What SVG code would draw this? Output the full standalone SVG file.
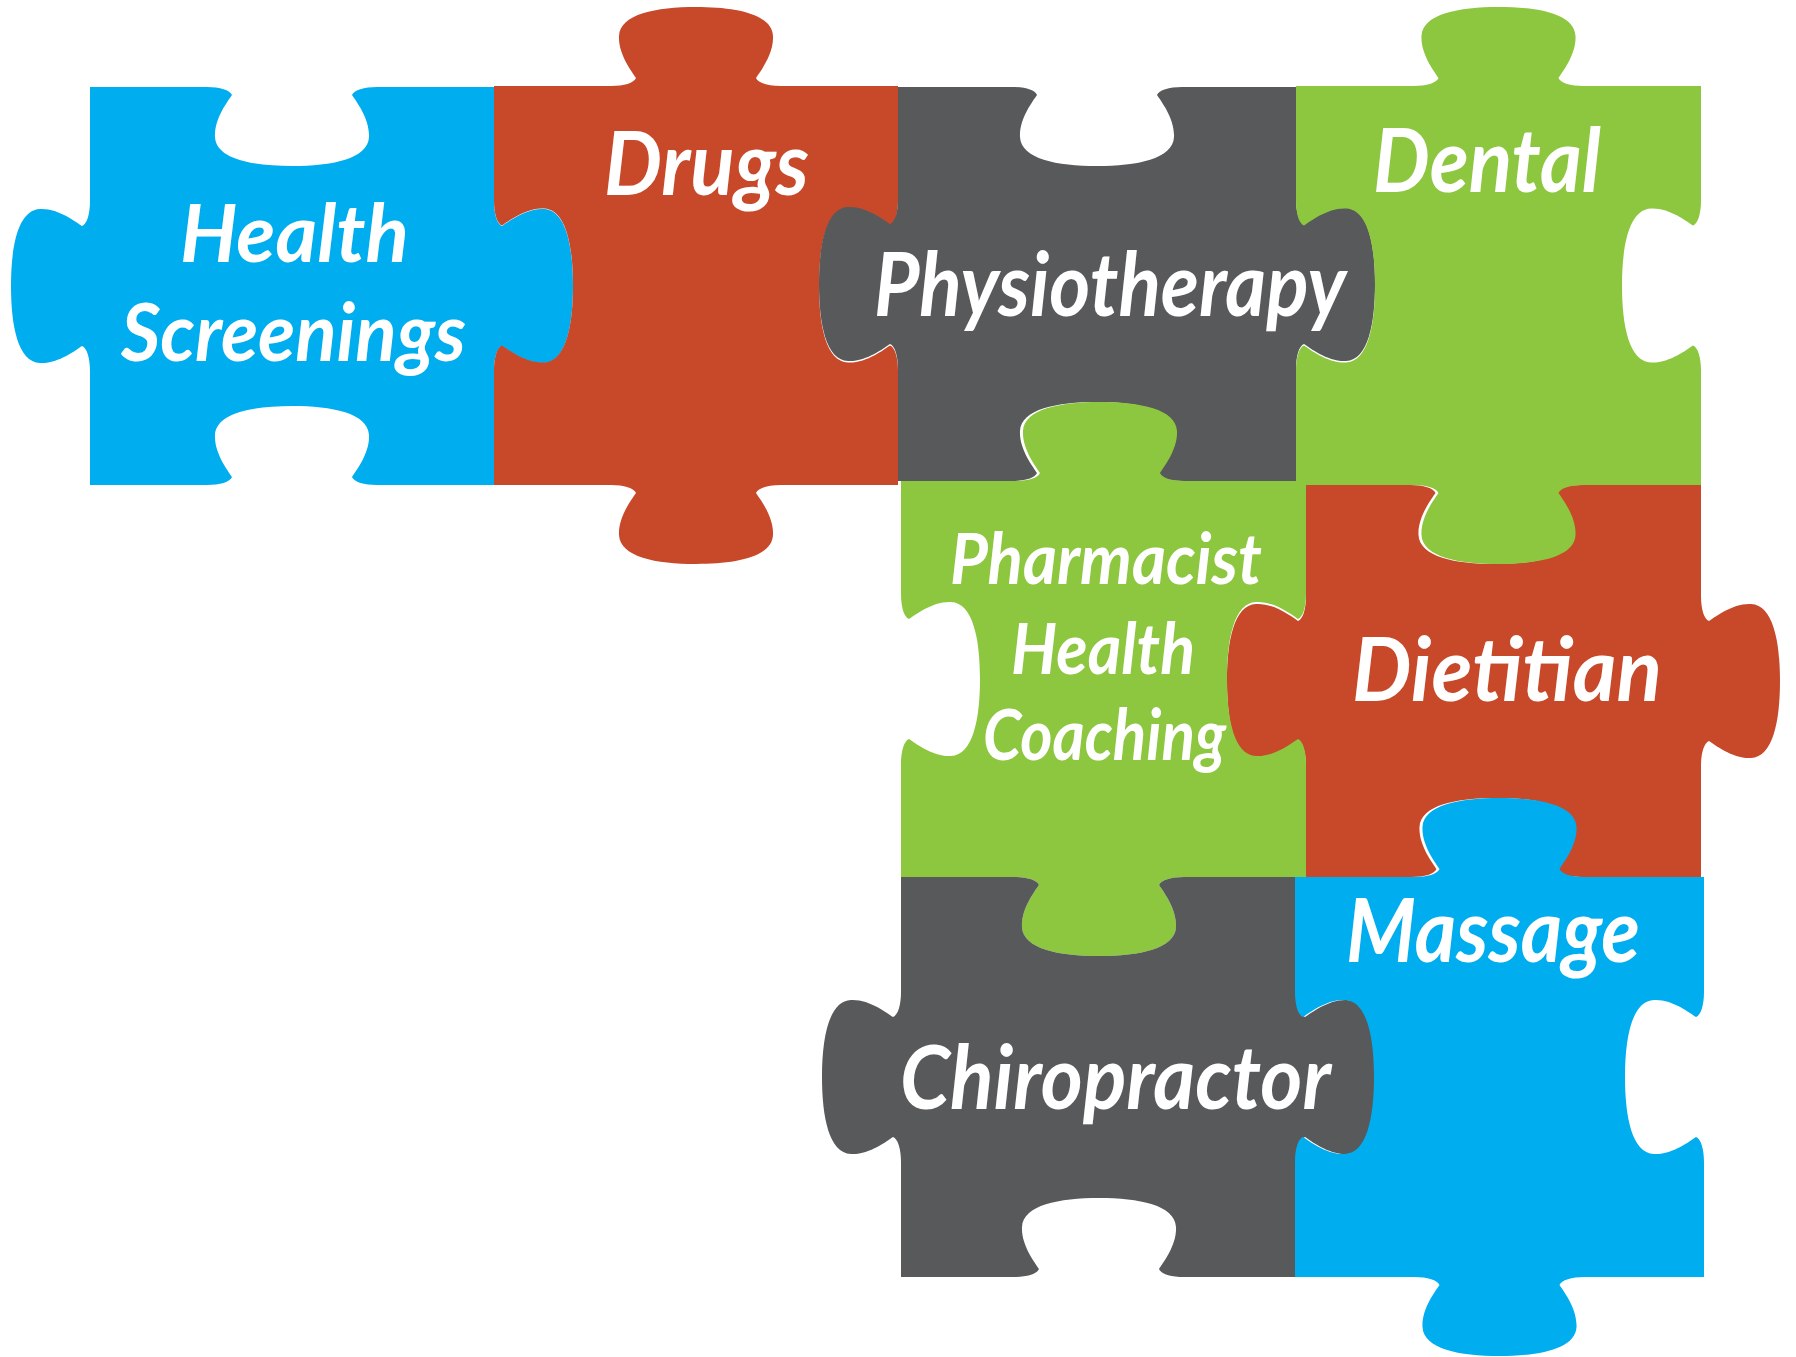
<svg xmlns="http://www.w3.org/2000/svg" width="1796" height="1357" viewBox="0 0 1796 1357">
<style>
.blue{fill:#00AEEF}
.red{fill:#C7492A}
.grey{fill:#58595B}
.green{fill:#8DC63F}
.lbl{font-family:Lato,"Noto Sans","DejaVu Sans",sans-serif;font-weight:700;font-style:italic;fill:#FFFFFF;font-size:88px}
.md{font-size:80px}
.sm{font-size:70px}
</style>
<rect width="1796" height="1357" fill="#FFFFFF"/>
<g id="health-screenings">
<path class="blue" d="M90,87 h117 c13,0 23,3 25,8 c-4,6 -18,24 -17,42 c1,22 37,29 77,29 c40,0 76,-7 77,-29 c1,-18 -13,-36 -17,-42 c2,-5 12,-8 25,-8 h117 v114 c0,13 3,23 8,25 c6,-4 24,-18 42,-17 c22,1 29,37 29,77 c0,40 -7,76 -29,77 c-18,1 -36,-13 -42,-17 c-5,2 -8,12 -8,25 v114 h-117 c-13,0 -23,-3 -25,-8 c4,-6 18,-24 17,-42 c-1,-22 -37,-29 -77,-29 c-40,0 -76,7 -77,29 c-1,18 13,36 17,42 c-2,5 -12,8 -25,8 h-117 v-114 c0,-13 -3,-23 -8,-25 c-6,4 -24,18 -42,17 c-22,-1 -29,-37 -29,-77 c0,-40 7,-76 29,-77 c18,-1 36,13 42,17 c5,-2 8,-12 8,-25 z"/>
<text class="lbl md" x="180" y="262" textLength="229" lengthAdjust="spacingAndGlyphs">Health</text>
<text class="lbl md" x="121" y="361" textLength="345" lengthAdjust="spacingAndGlyphs">Screenings</text>
</g>
<g id="drugs">
<path class="red" d="M494,86 h117 c13,0 23,-3 25,-8 c-4,-6 -18,-24 -17,-42 c1,-22 37,-29 77,-29 c40,0 76,7 77,29 c1,18 -13,36 -17,42 c2,5 12,8 25,8 h117 v114.5 c0,13 -3,23 -8,25 c-6,-4 -24,-18 -42,-17 c-22,1 -29,37 -29,77 c0,40 7,76 29,77 c18,1 36,-13 42,-17 c5,2 8,12 8,25 v114.5 h-117 c-13,0 -23,3 -25,8 c4,6 18,24 17,42 c-1,22 -37,29 -77,29 c-40,0 -76,-7 -77,-29 c-1,-18 13,-36 17,-42 c-2,-5 -12,-8 -25,-8 h-117 v-114.5 c0,-13 3,-23 8,-25 c6,4 24,18 42,17 c22,-1 29,-37 29,-77 c0,-40 -7,-76 -29,-77 c-18,-1 -36,13 -42,17 c-5,-2 -8,-12 -8,-25 z"/>
<text class="lbl" x="604" y="195" textLength="205" lengthAdjust="spacingAndGlyphs">Drugs</text>
</g>
<g id="physiotherapy">
<path class="grey" d="M898,87 h114 c13,0 23,3 25,8 c-4,6 -18,24 -17,42 c1,22 37,29 77,29 c40,0 76,-7 77,-29 c1,-18 -13,-36 -17,-42 c2,-5 12,-8 25,-8 h114 v112 c0,13 3,23 8,25 c6,-4 24,-18 42,-17 c22,1 29,37 29,77 c0,40 -7,76 -29,77 c-18,1 -36,-13 -42,-17 c-5,2 -8,12 -8,25 v112 h-114 c-13,0 -23,-3 -25,-8 c4,-6 18,-24 17,-42 c-1,-22 -37,-29 -77,-29 c-40,0 -76,7 -77,29 c-1,18 13,36 17,42 c-2,5 -12,8 -25,8 h-114 v-112 c0,-13 -3,-23 -8,-25 c-6,4 -24,18 -42,17 c-22,-1 -29,-37 -29,-77 c0,-40 7,-76 29,-77 c18,-1 36,13 42,17 c5,-2 8,-12 8,-25 z"/>
<text class="lbl" x="874" y="316" textLength="472" lengthAdjust="spacingAndGlyphs">Physiotherapy</text>
</g>
<g id="dietitian">
<path class="red" d="M1306,485 h104.5 c13,0 23,3 25,8 c-4,6 -18,24 -17,42 c1,22 37,29 77,29 c40,0 76,-7 77,-29 c1,-18 -13,-36 -17,-42 c2,-5 12,-8 25,-8 h120.5 v111 c0,13 3,23 8,25 c6,-4 24,-18 42,-17 c22,1 29,37 29,77 c0,40 -7,76 -29,77 c-18,1 -36,-13 -42,-17 c-5,2 -8,12 -8,25 v111 h-119.5 c-13,0 -23,-3 -25,-8 c4,-6 18,-24 17,-42 c-1,-22 -37,-29 -77,-29 c-40,0 -76,7 -77,29 c-1,18 13,36 17,42 c-2,5 -12,8 -25,8 h-105.5 v-111 c0,-13 -3,-23 -8,-25 c-6,4 -24,18 -42,17 c-22,-1 -29,-37 -29,-77 c0,-40 7,-76 29,-77 c18,-1 36,13 42,17 c5,-2 8,-12 8,-25 z"/>
<text class="lbl" x="1352" y="701" textLength="310" lengthAdjust="spacingAndGlyphs">Dietitian</text>
</g>
<g id="dental">
<path class="green" d="M1296,86 h117.5 c13,0 23,-3 25,-8 c-4,-6 -18,-24 -17,-42 c1,-22 37,-29 77,-29 c40,0 76,7 77,29 c1,18 -13,36 -17,42 c2,5 12,8 25,8 h117.5 v114.5 c0,13 -3,23 -8,25 c-6,-4 -24,-18 -42,-17 c-22,1 -29,37 -29,77 c0,40 7,76 29,77 c18,1 36,-13 42,-17 c5,2 8,12 8,25 v114.5 h-117.5 c-13,0 -23,3 -25,8 c4,6 18,24 17,42 c-1,22 -37,29 -77,29 c-40,0 -76,-7 -77,-29 c-1,-18 13,-36 17,-42 c-2,-5 -12,-8 -25,-8 h-117.5 v-114.5 c0,-13 3,-23 8,-25 c6,4 24,18 42,17 c22,-1 29,-37 29,-77 c0,-40 -7,-76 -29,-77 c-18,-1 -36,13 -42,17 c-5,-2 -8,-12 -8,-25 z"/>
<text class="lbl" x="1373" y="192" textLength="228" lengthAdjust="spacingAndGlyphs">Dental</text>
</g>
<g id="pharmacist-health-coaching">
<path class="green" d="M901,481 h114 c13,0 23,-3 25,-8 c-4,-6 -18,-24 -17,-42 c1,-22 37,-29 77,-29 c40,0 76,7 77,29 c1,18 -13,36 -17,42 c2,5 12,8 25,8 h121 v113 c0,13 -3,23 -8,25 c-6,-4 -24,-18 -42,-17 c-22,1 -29,37 -29,77 c0,40 7,76 29,77 c18,1 36,-13 42,-17 c5,2 8,12 8,25 v113 h-122 c-13,0 -23,3 -25,8 c4,6 18,24 17,42 c-1,22 -37,29 -77,29 c-40,0 -76,-7 -77,-29 c-1,-18 13,-36 17,-42 c-2,-5 -12,-8 -25,-8 h-113 v-113 c0,-13 3,-23 8,-25 c6,4 24,18 42,17 c22,-1 29,-37 29,-77 c0,-40 -7,-76 -29,-77 c-18,-1 -36,13 -42,17 c-5,-2 -8,-12 -8,-25 z"/>
<text class="lbl sm" x="950" y="584" textLength="312" lengthAdjust="spacingAndGlyphs">Pharmacist</text>
<text class="lbl sm" x="1011" y="674" textLength="184" lengthAdjust="spacingAndGlyphs">Health</text>
<text class="lbl sm" x="983" y="760" textLength="243" lengthAdjust="spacingAndGlyphs">Coaching</text>
</g>
<g id="chiropractor">
<path class="grey" d="M901,877 h113 c13,0 23,3 25,8 c-4,6 -18,24 -17,42 c1,22 37,29 77,29 c40,0 76,-7 77,-29 c1,-18 -13,-36 -17,-42 c2,-5 12,-8 25,-8 h113 v115 c0,13 3,23 8,25 c6,-4 24,-18 42,-17 c22,1 29,37 29,77 c0,40 -7,76 -29,77 c-18,1 -36,-13 -42,-17 c-5,2 -8,12 -8,25 v115 h-113 c-13,0 -23,-3 -25,-8 c4,-6 18,-24 17,-42 c-1,-22 -37,-29 -77,-29 c-40,0 -76,7 -77,29 c-1,18 13,36 17,42 c-2,5 -12,8 -25,8 h-113 v-115 c0,-13 -3,-23 -8,-25 c-6,4 -24,18 -42,17 c-22,-1 -29,-37 -29,-77 c0,-40 7,-76 29,-77 c18,-1 36,13 42,17 c5,-2 8,-12 8,-25 z"/>
<text class="lbl" x="900" y="1109" textLength="431" lengthAdjust="spacingAndGlyphs">Chiropractor</text>
</g>
<g id="massage">
<path class="blue" d="M1295,877 h119.5 c13,0 23,-3 25,-8 c-4,-6 -18,-24 -17,-42 c1,-22 37,-29 77,-29 c40,0 76,7 77,29 c1,18 -13,36 -17,42 c2,5 12,8 25,8 h119.5 v115 c0,13 -3,23 -8,25 c-6,-4 -24,-18 -42,-17 c-22,1 -29,37 -29,77 c0,40 7,76 29,77 c18,1 36,-13 42,-17 c5,2 8,12 8,25 v115 h-119.5 c-13,0 -23,3 -25,8 c4,6 18,24 17,42 c-1,22 -37,29 -77,29 c-40,0 -76,-7 -77,-29 c-1,-18 13,-36 17,-42 c-2,-5 -12,-8 -25,-8 h-119.5 v-115 c0,-13 3,-23 8,-25 c6,4 24,18 42,17 c22,-1 29,-37 29,-77 c0,-40 -7,-76 -29,-77 c-18,-1 -36,13 -42,17 c-5,-2 -8,-12 -8,-25 z"/>
<text class="lbl" x="1346" y="962" textLength="294" lengthAdjust="spacingAndGlyphs">Massage</text>
</g>
<g id="connectors"/>
</svg>
